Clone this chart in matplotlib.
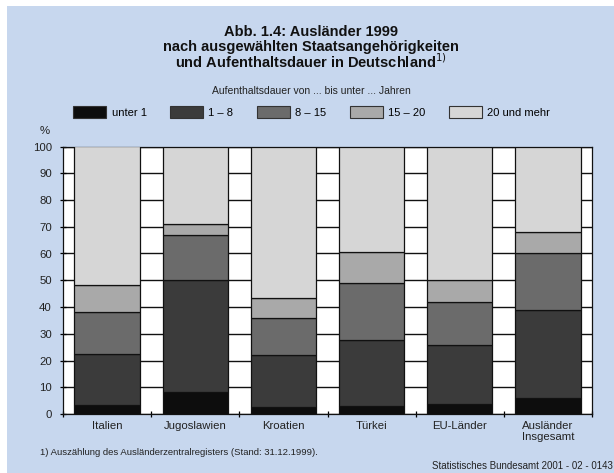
import matplotlib.pyplot as plt
import matplotlib.patches as mpatches
import numpy as np

plt.rcParams['font.family'] = ['Liberation Sans', 'DejaVu Sans']

laender = ["Italien", "Jugoslawien", "Kroatien", "Türkei", "EU-Länder", "Ausländer\nInsgesamt"]
klassen = ["unter 1", "1 – 8", "8 – 15", "15 – 20", "20 und mehr"]

# Anteile in % je Aufenthaltsdauer (von unten nach oben)
unter_1 = [3.2, 8.2, 2.5, 2.9, 3.9, 5.9]
j_1_8 = [19.2, 42.0, 19.5, 24.9, 21.9, 33.1]
j_8_15 = [15.7, 16.8, 14.0, 21.1, 16.0, 21.1]
j_15_20 = [10.1, 4.1, 7.3, 11.6, 8.4, 7.9]
j_20_mehr = [51.8, 28.9, 56.7, 39.5, 49.8, 32.0]

farben = ["#0d0d0d", "#3b3b3b", "#6b6b6b", "#a9a9a9", "#d6d6d6"]
bg = "#c7d7ee"
W, H = 614, 473

fig = plt.figure(figsize=(6.14, 4.73), dpi=100)
fig.patch.set_facecolor("white")
fig.patches.append(mpatches.Rectangle((7 / W, 0), 1, 1 - 6 / H, transform=fig.transFigure,
                                      facecolor=bg, edgecolor="none", zorder=-10))

ax = fig.add_axes([63 / W, 1 - 414 / H, 529 / W, (414 - 146.5) / H])
ax.set_facecolor("white")

x = np.arange(len(laender))
serien = [unter_1, j_1_8, j_8_15, j_15_20, j_20_mehr]
unten = np.zeros(len(laender))
for werte, farbe, name in zip(serien, farben, klassen):
    ax.bar(x, werte, width=0.74, bottom=unten, color=farbe, edgecolor="#111111",
           linewidth=0.9, label=name, zorder=3)
    unten += np.array(werte)

ax.set_xlim(-0.5, len(laender) - 0.5)
ax.set_ylim(0, 100)
ax.set_yticks(range(0, 101, 10))
ax.yaxis.grid(True, color="#111111", linewidth=1.0, zorder=1)
ax.set_axisbelow(True)
ax.set_xticks(x)
ax.set_xticklabels(laender, fontsize=8.2, color="#222222", linespacing=1.15)
ax.set_xticks(np.arange(-0.5, len(laender), 1), minor=True)
ax.tick_params(axis="x", which="major", length=0, pad=5)
ax.tick_params(axis="x", which="minor", length=4, width=0.9, direction="inout")
ax.tick_params(axis="y", length=4, width=0.9, direction="inout", labelsize=8.2,
               labelcolor="#222222", pad=6)
for s in ax.spines.values():
    s.set_color("#111111")
    s.set_linewidth(0.9)

fig.text(45 / W, 1 - 131 / H, "%", fontsize=8.2, color="#222222", ha="center", va="center")

titel = ["Abb. 1.4: Ausländer 1999",
         "nach ausgewählten Staatsangehörigkeiten",
         "und Aufenthaltsdauer in Deutschland$^{1)}$"]
for i, zeile in enumerate(titel):
    fig.text(311 / W, 1 - (32 + 15 * i) / H, zeile, fontsize=10.5, fontweight="bold",
             ha="center", va="center", color="#111111")

fig.text(311 / W, 1 - 91 / H, "Aufenthaltsdauer von ... bis unter ... Jahren", fontsize=7.5,
         ha="center", va="center", color="#222222")

handles = [mpatches.Patch(facecolor=f, edgecolor="#333333", linewidth=0.8) for f in farben]
fig.legend(handles, klassen, loc="center left", bbox_to_anchor=(73 / W, 1 - 112 / H), ncol=5,
           frameon=False, fontsize=8, handlelength=2.97, handleheight=1.35, columnspacing=2.1,
           handletextpad=0.5, borderpad=0, borderaxespad=0)

fig.text(40 / W, 1 - 452 / H, "1) Auszählung des Ausländerzentralregisters (Stand: 31.12.1999).",
         fontsize=6.8, ha="left", va="center", color="#222222")
fig.text(613 / W, 1 - 466 / H, "Statistisches Bundesamt 2001 - 02 - 0143", fontsize=7,
         ha="right", va="center", color="#222222")

fig.savefig("out.png", dpi=100, facecolor=fig.get_facecolor())
